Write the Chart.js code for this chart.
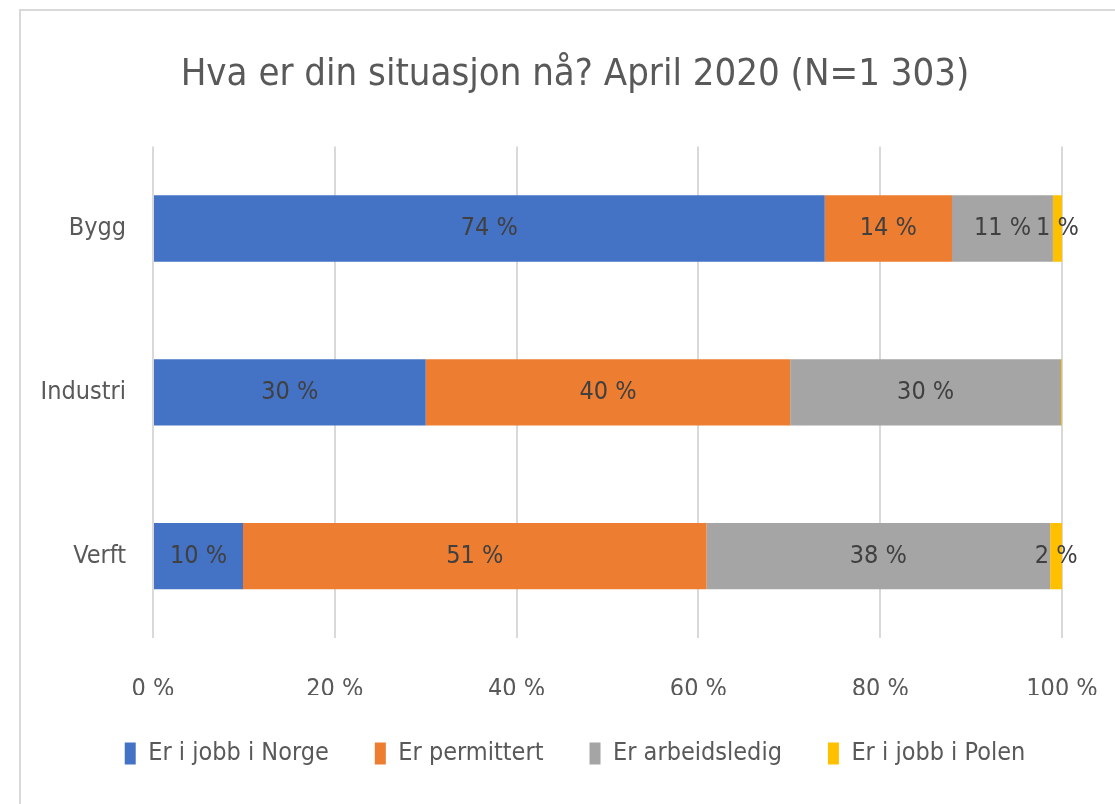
<!DOCTYPE html>
<html>
<head>
<meta charset="utf-8">
<script src="https://cdn.jsdelivr.net/npm/chart.js@4/dist/chart.umd.min.js"></script>
<style>
  html, body { margin: 0; padding: 0; background: #fff; overflow: hidden; }
  #frame {
    position: absolute; left: 19px; top: 9px;
    border-left: 2px solid #d9d9d9; border-top: 2px solid #d9d9d9;
    width: 1108px; height: 810px;
  }
  canvas { display: block; }
</style>
</head>
<body>
<div id="frame"><canvas id="chart" width="1108" height="800"></canvas></div>
<script>
const categories = ['Bygg', 'Industri', 'Verft'];
const jobbNorge = [73.9, 30.0, 9.9];
const permittert = [14.0, 40.1, 51.0];
const arbeidsledig = [11.1, 29.8, 37.8];
const jobbPolen = [1.0, 0.1, 1.3];
const xTicks = [0, 20, 40, 60, 80, 100];

const FONT = "'Liberation Sans Narrow', 'Arial Narrow', 'DejaVu Sans Condensed', sans-serif";
Chart.defaults.font.family = FONT;
Chart.defaults.color = '#595959';

// data labels in the middle of each segment (Verft's 1.3 is shown as 2 %, as in the source)
const segmentLabels = {
    id: 'segmentLabels',
    afterDatasetsDraw(chart) {
        const ctx = chart.ctx;
        ctx.save();
        ctx.font = '25px ' + FONT;
        ctx.fillStyle = '#404040';
        ctx.textAlign = 'center';
        ctx.textBaseline = 'middle';
        chart.data.datasets.forEach((ds, i) => {
            chart.getDatasetMeta(i).data.forEach((bar, j) => {
                const v = ds.data[j];
                if (v < 0.5) return;
                const x = (bar.x + bar.base) / 2;
                const txt = (i === 3 && j === 2) ? '2' : String(Math.round(v));
                ctx.fillText(txt + ' %', x, bar.y);
            });
        });
        ctx.restore();
    }
};

const ctx = document.getElementById('chart').getContext('2d');
const chart = new Chart(ctx, {
    type: 'bar',
    data: {
        labels: categories,
        datasets: [
            { label: 'Er i jobb i Norge', data: jobbNorge, backgroundColor: '#4472C4' },
            { label: 'Er permittert', data: permittert, backgroundColor: '#ED7D31' },
            { label: 'Er arbeidsledig', data: arbeidsledig, backgroundColor: '#A5A5A5' },
            { label: 'Er i jobb i Polen', data: jobbPolen, backgroundColor: '#FFC000' }
        ]
    },
    options: {
        indexAxis: 'y',
        responsive: false,
        animation: false,
        categoryPercentage: 1,
        barPercentage: 0.405,
        layout: { padding: { left: 0, right: 0, top: 0, bottom: 35 } },
        plugins: {
            title: {
                display: true,
                text: 'Hva er din situasjon nå? April 2020 (N=1 303)',
                font: { size: 38, weight: 'normal' },
                color: '#595959',
                padding: { top: 41, bottom: 49 }
            },
            legend: {
                position: 'bottom',
                labels: {
                    boxWidth: 11,
                    boxHeight: 22,
                    padding: 46,
                    font: { size: 25 },
                    color: '#595959'
                }
            },
            tooltip: { enabled: false }
        },
        scales: {
            x: {
                stacked: true,
                min: 0,
                max: 100,
                afterBuildTicks: axis => { axis.ticks = xTicks.map(v => ({ value: v })); },
                afterFit: axis => { axis.height = 57; },
                ticks: {
                    callback: v => v + ' %',
                    font: { size: 25 },
                    color: '#595959',
                    padding: 3
                },
                // invisible tick marks push the labels down
                grid: { color: '#d9d9d9', lineWidth: 2, drawTicks: true, tickLength: 33, tickColor: 'rgba(0,0,0,0)' },
                border: { display: false }
            },
            y: {
                stacked: true,
                afterFit: axis => { axis.width = 132; },
                ticks: { font: { size: 25 }, color: '#595959', padding: 27 },
                grid: { display: false, drawTicks: false },
                border: { display: false }
            },
            // empty right margin so the title and legend centre on the whole frame
            yRight: {
                type: 'linear',
                position: 'right',
                afterFit: axis => { axis.width = 67; },
                ticks: { display: false },
                grid: { display: false, drawTicks: false },
                border: { display: false }
            }
        }
    },
    plugins: [segmentLabels]
});
</script>
</body>
</html>
